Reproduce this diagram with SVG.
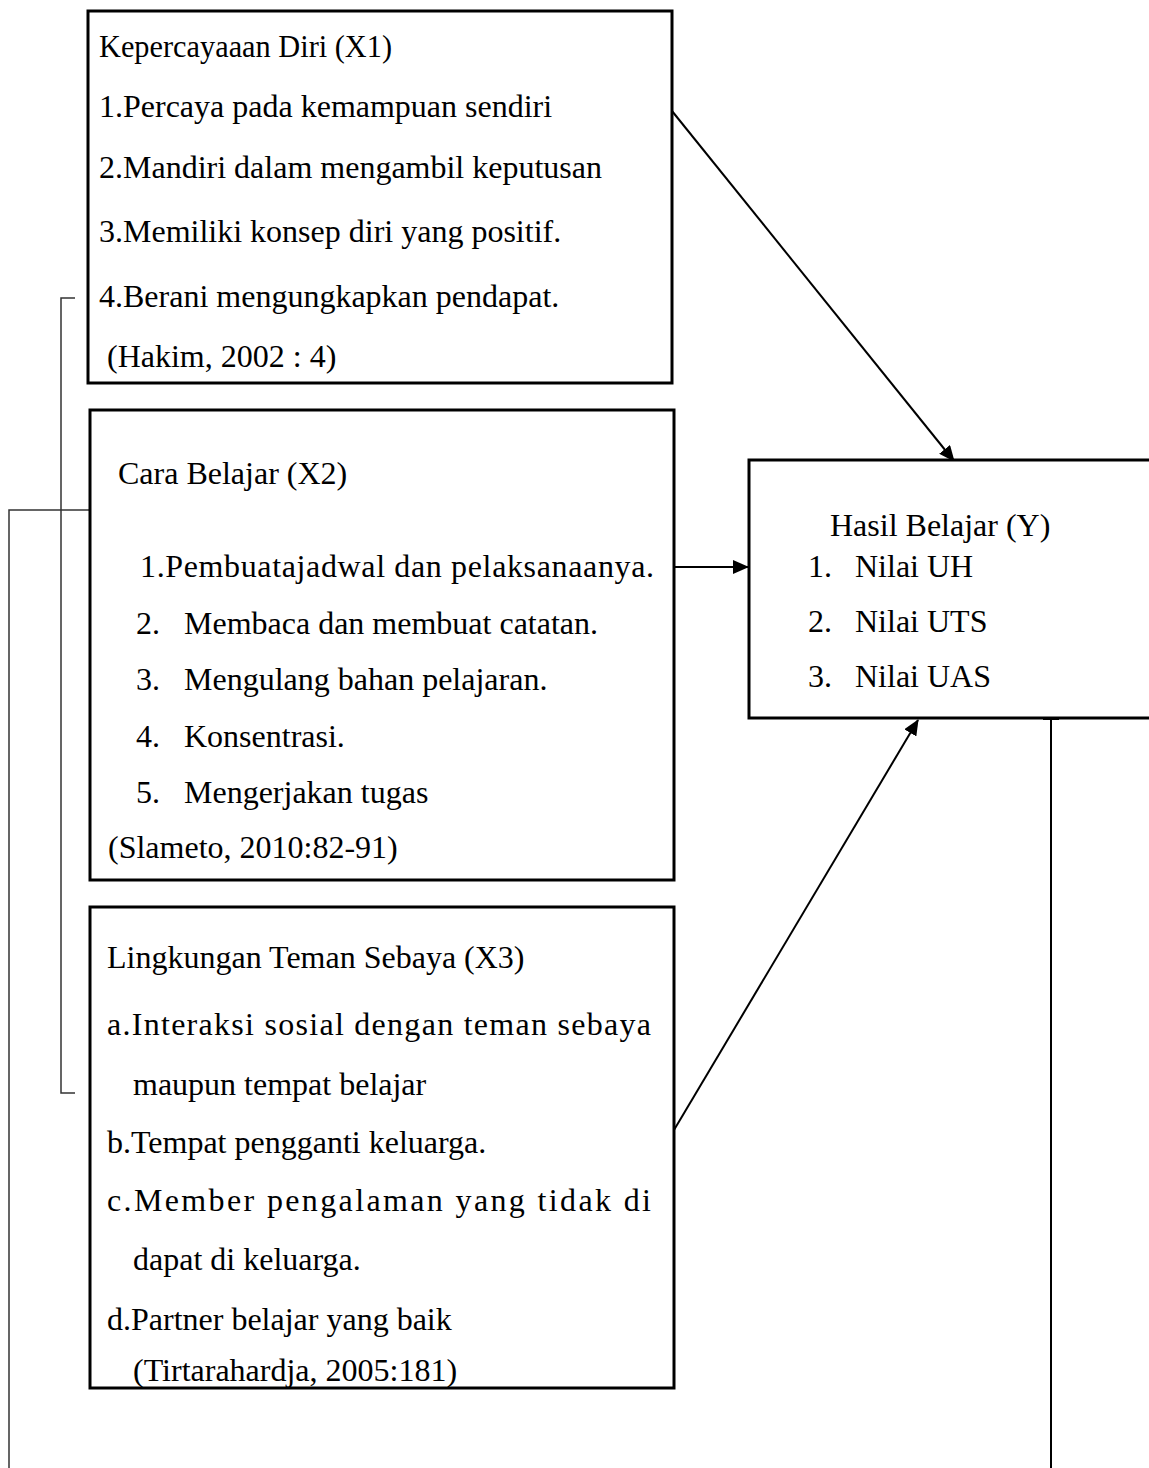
<svg xmlns="http://www.w3.org/2000/svg" width="1149" height="1468" viewBox="0 0 1149 1468">
<defs>
<style>
.box{fill:#fff;stroke:#000;stroke-width:3}
text{font-family:"Liberation Serif","Times New Roman",serif;font-size:32px;fill:#000}
.ln{fill:none;stroke:#000;stroke-width:2}
.thin{fill:none;stroke:#333;stroke-width:1.5}
</style>
<marker id="ah2" markerWidth="16" markerHeight="14" refX="15" refY="7" orient="auto" markerUnits="userSpaceOnUse" viewBox="0 0 16 14">
<path d="M0,0 L16,7 L0,14 z" fill="#000"/>
</marker>
</defs>
<g id="connectors">
<polyline class="thin" points="75,298 61,298 61,1093 75,1093"/>
<polyline class="thin" points="90,510 9,510 9,1468"/>
<line class="ln" x1="1051" y1="718" x2="1051" y2="1468" stroke-width="3"/>
<line class="ln" x1="1043" y1="719" x2="1059" y2="719" stroke-width="3"/>
<line class="ln" x1="672" y1="111" x2="954" y2="461" marker-end="url(#ah2)"/>
<line class="ln" x1="674" y1="567" x2="748" y2="567" marker-end="url(#ah2)"/>
<line class="ln" x1="674" y1="1130" x2="918" y2="720" marker-end="url(#ah2)"/>
</g>
<g id="node-x1">
<rect class="box" x="88" y="11" width="584" height="372"/>
<text x="99" y="57" textLength="293" lengthAdjust="spacingAndGlyphs">Kepercayaaan Diri (X1)</text>
<text x="99" y="117">1.Percaya pada kemampuan sendiri</text>
<text x="99" y="178">2.Mandiri dalam mengambil keputusan</text>
<text x="99" y="242">3.Memiliki konsep diri yang positif.</text>
<text x="99" y="307">4.Berani mengungkapkan pendapat.</text>
<text x="107" y="367">(Hakim, 2002 : 4)</text>
</g>
<g id="node-x2">
<rect class="box" x="90" y="410" width="584" height="470"/>
<text x="118" y="484">Cara Belajar (X2)</text>
<text x="140" y="577" textLength="514" lengthAdjust="spacing">1.Pembuatajadwal dan pelaksanaanya.</text>
<text x="136" y="634">2.</text><text x="184" y="634">Membaca dan membuat catatan.</text>
<text x="136" y="690">3.</text><text x="184" y="690">Mengulang bahan pelajaran.</text>
<text x="136" y="747">4.</text><text x="184" y="747">Konsentrasi.</text>
<text x="136" y="803">5.</text><text x="184" y="803">Mengerjakan tugas</text>
<text x="108" y="858">(Slameto, 2010:82-91)</text>
</g>
<g id="node-x3">
<rect class="box" x="90" y="907" width="584" height="481"/>
<text x="107" y="968">Lingkungan Teman Sebaya (X3)</text>
<text x="107" y="1035" textLength="544" lengthAdjust="spacing">a.Interaksi sosial dengan teman sebaya</text>
<text x="133" y="1095">maupun tempat belajar</text>
<text x="107" y="1153">b.Tempat pengganti keluarga.</text>
<text x="107" y="1211" textLength="544" lengthAdjust="spacing">c.Member pengalaman yang tidak di</text>
<text x="133" y="1270">dapat di keluarga.</text>
<text x="107" y="1330">d.Partner belajar yang baik</text>
<text x="133" y="1381">(Tirtarahardja, 2005:181)</text>
</g>
<g id="node-y">
<rect class="box" x="749" y="460" width="410" height="258"/>
<text x="830" y="536">Hasil Belajar (Y)</text>
<text x="808" y="577">1.</text><text x="855" y="577">Nilai UH</text>
<text x="808" y="632">2.</text><text x="855" y="632">Nilai UTS</text>
<text x="808" y="687">3.</text><text x="855" y="687">Nilai UAS</text>
</g>
</svg>
